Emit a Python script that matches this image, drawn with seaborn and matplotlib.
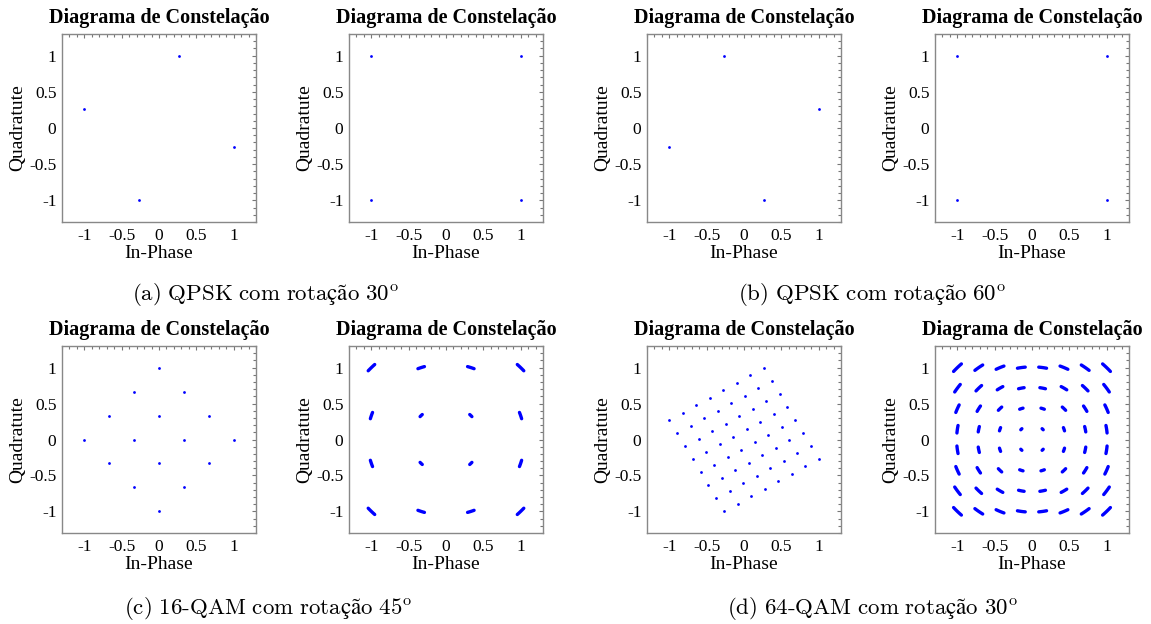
import numpy as np
import pandas as pd
import matplotlib
matplotlib.use("Agg")
import matplotlib.pyplot as plt
from matplotlib.ticker import FixedLocator, MultipleLocator
import seaborn as sns

# constellation levels (per axis, normalised)
qpsk_levels = [-1, 1]
qam16_levels = [-1, -0.333, 0.333, 1]
qam64_levels = [-1, -0.714, -0.429, -0.143, 0.143, 0.429, 0.714, 1]

# rotation of each transmitted constellation (degrees)
rot_a = 30
rot_b = 60
rot_c = 45
rot_d = 30

# residual phase spread of the received (de-rotated) symbols, degrees
spread_qpsk = [0]
spread_16 = [-2.5, -1.25, 0, 1.25, 2.5]
spread_64 = [-3.0, -1.5, 0, 1.5, 3.0]

tick_vals = [-1, -0.5, 0, 0.5, 1]
tick_labels = ["-1", "-0.5", "0", "0.5", "1"]

captions = [r"$\mathrm{(a)\ QPSK\ com\ rotação\ 30^{o}}$",
            r"$\mathrm{(b)\ QPSK\ com\ rotação\ 60^{o}}$",
            r"$\mathrm{(c)\ 16\text{-}QAM\ com\ rotação\ 45^{o}}$",
            r"$\mathrm{(d)\ 64\text{-}QAM\ com\ rotação\ 30^{o}}$"]

sns.set_style("white")
plt.rcParams['font.family'] = ['Liberation Serif', 'DejaVu Serif']
plt.rcParams['mathtext.fontset'] = 'cm'
plt.rcParams['axes.unicode_minus'] = False
plt.rcParams['text.color'] = 'black'
plt.rcParams['axes.labelcolor'] = 'black'
plt.rcParams['xtick.labelcolor'] = 'black'
plt.rcParams['ytick.labelcolor'] = 'black'


def grid(levels):
    I, Q = np.meshgrid(levels, levels)
    return I.ravel(), Q.ravel()


def rotated(levels, deg):
    i, q = grid(levels)
    t = np.deg2rad(deg)
    ri = i * np.cos(t) - q * np.sin(t)
    rq = i * np.sin(t) + q * np.cos(t)
    m = max(np.abs(ri).max(), np.abs(rq).max())
    return pd.DataFrame({"I": ri / m, "Q": rq / m})


def received(levels, spread):
    i, q = grid(levels)
    rows = []
    for k in range(len(i)):
        for d in spread:
            t = np.deg2rad(d)
            rows.append((k, i[k] * np.cos(t) - q[k] * np.sin(t),
                         i[k] * np.sin(t) + q[k] * np.cos(t)))
    return pd.DataFrame(rows, columns=["sym", "I", "Q"])


fig = plt.figure(figsize=(11.51, 6.24), dpi=100)
W, H = 1151, 624
lefts = [62, 349, 647, 935]


def labels(ax):
    ax.set_xlabel("In-Phase", fontsize=14, labelpad=1, color='black')
    ax.set_ylabel("Quadratute", fontsize=14, labelpad=2, color='black')


def make_ax(left, top, bottom):
    ax = fig.add_axes([left / W, 1 - bottom / H, 194 / W, (bottom - top) / H])
    ax.set_xlim(-1.3, 1.3)
    ax.set_ylim(-1.3, 1.3)
    ax.xaxis.set_major_locator(FixedLocator(tick_vals))
    ax.yaxis.set_major_locator(FixedLocator(tick_vals))
    ax.set_xticklabels(tick_labels, fontsize=12.5)
    ax.set_yticklabels(tick_labels, fontsize=12.5)
    ax.xaxis.set_minor_locator(MultipleLocator(0.1))
    ax.yaxis.set_minor_locator(MultipleLocator(0.1))
    ax.tick_params(which='both', direction='in', top=True, right=True,
                   color='#777777', width=0.8, labelcolor='black')
    ax.tick_params(which='major', length=3, pad=4)
    ax.tick_params(which='minor', length=2)
    for s in ax.spines.values():
        s.set_color('#888888')
        s.set_linewidth(1.0)
    ax.set_title("Diagrama de Constelação", fontsize=14.5, fontweight='bold',
                 pad=8, color='black')
    labels(ax)
    return ax


def dots(ax, df):
    sns.scatterplot(data=df, x="I", y="Q", ax=ax, color="blue", s=4,
                    linewidth=0, legend=False)
    labels(ax)


def arcs(ax, df):
    sns.lineplot(data=df, x="I", y="Q", units="sym", estimator=None, sort=False,
                 ax=ax, color="blue", linewidth=2.4, legend=False)
    labels(ax)


# top row
ax = make_ax(lefts[0], 34, 222)
dots(ax, rotated(qpsk_levels, rot_a))
ax = make_ax(lefts[1], 34, 222)
dots(ax, received(qpsk_levels, spread_qpsk))
ax = make_ax(lefts[2], 34, 222)
dots(ax, rotated(qpsk_levels, rot_b))
ax = make_ax(lefts[3], 34, 222)
dots(ax, received(qpsk_levels, spread_qpsk))

# bottom row
ax = make_ax(lefts[0], 346, 533)
dots(ax, rotated(qam16_levels, rot_c))
ax = make_ax(lefts[1], 346, 533)
arcs(ax, received(qam16_levels, spread_16))
ax = make_ax(lefts[2], 346, 533)
dots(ax, rotated(qam64_levels, rot_d))
ax = make_ax(lefts[3], 346, 533)
arcs(ax, received(qam64_levels, spread_64))

cap_pos = [(265 / W, 1 - 295 / H), (872 / W, 1 - 295 / H),
           (268 / W, 1 - 609 / H), (872 / W, 1 - 609 / H)]
for (x, y), txt in zip(cap_pos, captions):
    fig.text(x, y, txt, ha='center', va='center', fontsize=16.5, color='black')

fig.savefig("out.png", dpi=100)
